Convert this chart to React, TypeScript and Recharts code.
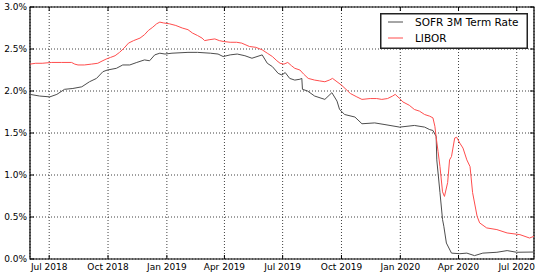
import React from 'react';
import { LineChart, Line, XAxis, YAxis, CartesianGrid, ReferenceArea, Legend } from 'recharts';

const sofrDates = [
  '2018-06-01', '2018-06-16', '2018-07-02', '2018-07-13', '2018-07-25', '2018-08-07', '2018-08-21',
  '2018-09-02', '2018-09-13', '2018-09-23', '2018-09-30', '2018-10-14', '2018-10-24', '2018-11-04',
  '2018-11-15', '2018-11-27', '2018-12-05', '2018-12-13', '2018-12-21', '2018-12-29', '2019-01-09',
  '2019-02-03', '2019-02-18', '2019-03-10', '2019-03-22', '2019-03-30', '2019-04-10', '2019-04-21',
  '2019-05-03', '2019-05-14', '2019-05-30', '2019-06-07', '2019-06-15', '2019-06-24', '2019-06-30',
  '2019-07-05', '2019-07-12', '2019-07-20', '2019-07-28', '2019-07-31', '2019-08-01', '2019-08-09',
  '2019-08-20', '2019-09-05', '2019-09-16', '2019-09-24', '2019-09-28', '2019-10-06', '2019-10-22',
  '2019-11-02', '2019-11-22', '2019-12-08', '2019-12-31', '2020-01-23', '2020-02-08', '2020-02-16',
  '2020-02-21', '2020-02-26', '2020-02-27', '2020-03-03', '2020-03-07', '2020-03-09', '2020-03-13',
  '2020-03-21', '2020-04-03', '2020-04-14', '2020-04-26', '2020-05-09', '2020-05-31', '2020-06-16',
  '2020-07-01', '2020-07-28',
];
const sofrValues = [
  1.96, 1.94, 1.93, 1.96, 2.02, 2.03, 2.05,
  2.11, 2.15, 2.23, 2.25, 2.27, 2.31, 2.31,
  2.34, 2.37, 2.36, 2.43, 2.45, 2.44, 2.45,
  2.46, 2.46, 2.45, 2.44, 2.41, 2.43, 2.44,
  2.42, 2.39, 2.43, 2.33, 2.29, 2.21, 2.19,
  2.22, 2.15, 2.13, 2.14, 2.15, 2.02, 2.0,
  1.94, 1.9, 1.98, 1.88, 1.78, 1.72, 1.69,
  1.61, 1.62, 1.6, 1.57, 1.59, 1.57, 1.54,
  1.53, 1.46, 1.18, 0.79, 0.47, 0.39, 0.19,
  0.07, 0.063, 0.07, 0.04, 0.07, 0.08, 0.1,
  0.08, 0.083,
];

const liborDates = [
  '2018-06-01', '2018-06-10', '2018-06-20', '2018-07-05', '2018-07-20', '2018-08-05', '2018-08-10',
  '2018-08-15', '2018-08-25', '2018-09-05', '2018-09-15', '2018-09-20', '2018-09-28', '2018-10-05',
  '2018-10-12', '2018-10-19', '2018-10-26', '2018-11-02', '2018-11-10', '2018-11-20', '2018-11-27',
  '2018-12-03', '2018-12-10', '2018-12-16', '2018-12-21', '2018-12-27', '2019-01-05', '2019-01-15',
  '2019-01-25', '2019-02-03', '2019-02-10', '2019-02-18', '2019-02-25', '2019-03-01', '2019-03-08',
  '2019-03-17', '2019-03-24', '2019-03-30', '2019-04-10', '2019-04-20', '2019-04-28', '2019-05-10',
  '2019-05-20', '2019-05-30', '2019-06-07', '2019-06-15', '2019-06-22', '2019-06-27', '2019-07-03',
  '2019-07-09', '2019-07-15', '2019-07-20', '2019-07-28', '2019-08-03', '2019-08-10', '2019-08-20',
  '2019-08-28', '2019-09-05', '2019-09-12', '2019-09-17', '2019-09-24', '2019-10-01', '2019-10-08',
  '2019-10-15', '2019-10-25', '2019-11-02', '2019-11-15', '2019-11-25', '2019-12-03', '2019-12-12',
  '2019-12-20', '2019-12-24', '2019-12-31', '2020-01-05', '2020-01-15', '2020-01-23', '2020-01-31',
  '2020-02-08', '2020-02-16', '2020-02-21', '2020-02-24', '2020-02-26', '2020-02-29', '2020-03-03',
  '2020-03-07', '2020-03-10', '2020-03-15', '2020-03-18', '2020-03-21', '2020-03-26', '2020-03-29',
  '2020-04-03', '2020-04-08', '2020-04-14', '2020-04-19', '2020-04-23', '2020-04-30', '2020-05-04',
  '2020-05-15', '2020-05-31', '2020-06-16', '2020-07-06', '2020-07-21', '2020-07-28',
];
const liborValues = [
  2.32, 2.33, 2.33, 2.34, 2.34, 2.34, 2.32,
  2.31, 2.31, 2.32, 2.33, 2.35, 2.38, 2.4,
  2.42, 2.46, 2.51, 2.57, 2.6, 2.63, 2.67,
  2.72, 2.76, 2.8, 2.82, 2.81, 2.8, 2.78,
  2.75, 2.73, 2.69, 2.66, 2.63, 2.6, 2.61,
  2.62, 2.6, 2.59, 2.58, 2.58, 2.57, 2.53,
  2.52, 2.49, 2.45, 2.41, 2.36, 2.33, 2.32,
  2.34, 2.3, 2.27, 2.25, 2.2, 2.15, 2.13,
  2.12, 2.11, 2.13, 2.15, 2.11, 2.07, 2.02,
  1.97, 1.93, 1.9, 1.91, 1.91, 1.9, 1.91,
  1.94, 1.96, 1.91, 1.87, 1.83, 1.78, 1.76,
  1.72, 1.7, 1.68, 1.58, 1.45, 1.28, 1.1,
  0.8, 0.745, 0.91, 1.18, 1.22, 1.44, 1.45,
  1.38, 1.32, 1.18, 1.1, 0.79, 0.51, 0.43,
  0.37, 0.35, 0.31, 0.29, 0.25, 0.27,
];

const xTickDates = [
  '2018-07-01', '2018-10-01', '2019-01-01', '2019-04-01', '2019-07-01',
  '2019-10-01', '2020-01-01', '2020-04-01', '2020-07-01',
];
const yTickValues = [0, 0.5, 1.0, 1.5, 2.0, 2.5, 3.0];
const xDomainDates = ['2018-06-01', '2020-07-28'];
const seriesNames = ['SOFR 3M Term Rate', 'LIBOR'];
const monthNames = ['Jan', 'Feb', 'Mar', 'Apr', 'May', 'Jun', 'Jul', 'Aug', 'Sep', 'Oct', 'Nov', 'Dec'];

const COLORS = ['#4d4d4d', '#ff4d4d'];
const FONT = '"DejaVu Sans", sans-serif';
const W = 538;
const H = 275;
const M = { top: 7, right: 4, bottom: 0, left: 0 };
const Y_AXIS_W = 30;
const X_AXIS_H = 16;
const PLOT_TOP = M.top;
const PLOT_RIGHT = W - M.right;

const toT = (s: string) => Date.parse(s);
const sofrData = sofrDates.map((d, i) => ({ t: toT(d), v: sofrValues[i] }));
const liborData = liborDates.map((d, i) => ({ t: toT(d), v: liborValues[i] }));
const xTicks = xTickDates.map(toT);
const xMin = toT(xDomainDates[0]);
const xMax = toT(xDomainDates[1]);

const fmtDate = (t: number) => {
  const d = new Date(t);
  return `${monthNames[d.getUTCMonth()]} ${d.getUTCFullYear()}`;
};

const XTick = (props: any) => {
  const { x, y, payload } = props;
  return (
    <g>
      <line x1={x} x2={x} y1={y} y2={y - 4} stroke="#000" strokeWidth={1} />
      <line x1={x} x2={x} y1={PLOT_TOP} y2={PLOT_TOP + 4} stroke="#000" strokeWidth={1} />
      <text x={x} y={y + 11} textAnchor="middle" fontSize={9} fontFamily={FONT} fill="#000">
        {fmtDate(payload.value)}
      </text>
    </g>
  );
};

const YTick = (props: any) => {
  const { x, y, payload } = props;
  return (
    <g>
      <line x1={x} x2={x + 4} y1={y} y2={y} stroke="#000" strokeWidth={1} />
      <line x1={PLOT_RIGHT - 4} x2={PLOT_RIGHT} y1={y} y2={y} stroke="#000" strokeWidth={1} />
      <text x={x - 3} y={y} dy="0.35em" textAnchor="end" fontSize={9} fontFamily={FONT} fill="#000">
        {`${payload.value.toFixed(1)}%`}
      </text>
    </g>
  );
};

const LegendBox = () => (
  <svg width={148} height={36} style={{ display: 'block', overflow: 'visible' }}>
    <rect x={0.75} y={0.75} width={146.5} height={34.5} fill="#fff" stroke="#222" strokeWidth={1.5} />
    {seriesNames.map((n, i) => (
      <g key={n}>
        <line x1={8} x2={23} y1={9 + i * 16} y2={9 + i * 16} stroke={COLORS[i]} strokeWidth={1} />
        <text x={35} y={9 + i * 16} dy="0.35em" fontSize={10.5} fontFamily={FONT} fill="#000">
          {n}
        </text>
      </g>
    ))}
  </svg>
);

export default function App() {
  return (
    <div style={{ position: 'absolute', left: 0, top: 0, width: W, height: H, background: '#fff' }}>
      <LineChart width={W} height={H} margin={M}>
        <CartesianGrid stroke="#000" strokeOpacity={0.75} strokeDasharray="1 2" strokeWidth={1} />
        <XAxis
          dataKey="t"
          type="number"
          domain={[xMin, xMax]}
          allowDataOverflow
          ticks={xTicks}
          interval={0}
          height={X_AXIS_H}
          tickSize={0}
          tickMargin={0}
          tickLine={false}
          axisLine={false}
          tick={<XTick />}
        />
        <YAxis
          type="number"
          domain={[0, 3]}
          allowDataOverflow
          ticks={yTickValues}
          interval={0}
          width={Y_AXIS_W}
          tickSize={0}
          tickMargin={0}
          tickLine={false}
          axisLine={false}
          tick={<YTick />}
        />
        <Line
          data={sofrData}
          dataKey="v"
          name={seriesNames[0]}
          stroke={COLORS[0]}
          strokeWidth={1}
          dot={false}
          isAnimationActive={false}
        />
        <Line
          data={liborData}
          dataKey="v"
          name={seriesNames[1]}
          stroke={COLORS[1]}
          strokeWidth={1}
          dot={false}
          isAnimationActive={false}
        />
        <ReferenceArea
          x1={xMin}
          x2={xMax}
          y1={0}
          y2={3}
          fill="none"
          stroke="#000"
          strokeWidth={1.2}
          ifOverflow="extendDomain"
        />
        <Legend
          content={<LegendBox />}
          wrapperStyle={{ position: 'absolute', left: 380, top: 13, width: 148, height: 0, overflow: 'visible' }}
        />
      </LineChart>
    </div>
  );
}
